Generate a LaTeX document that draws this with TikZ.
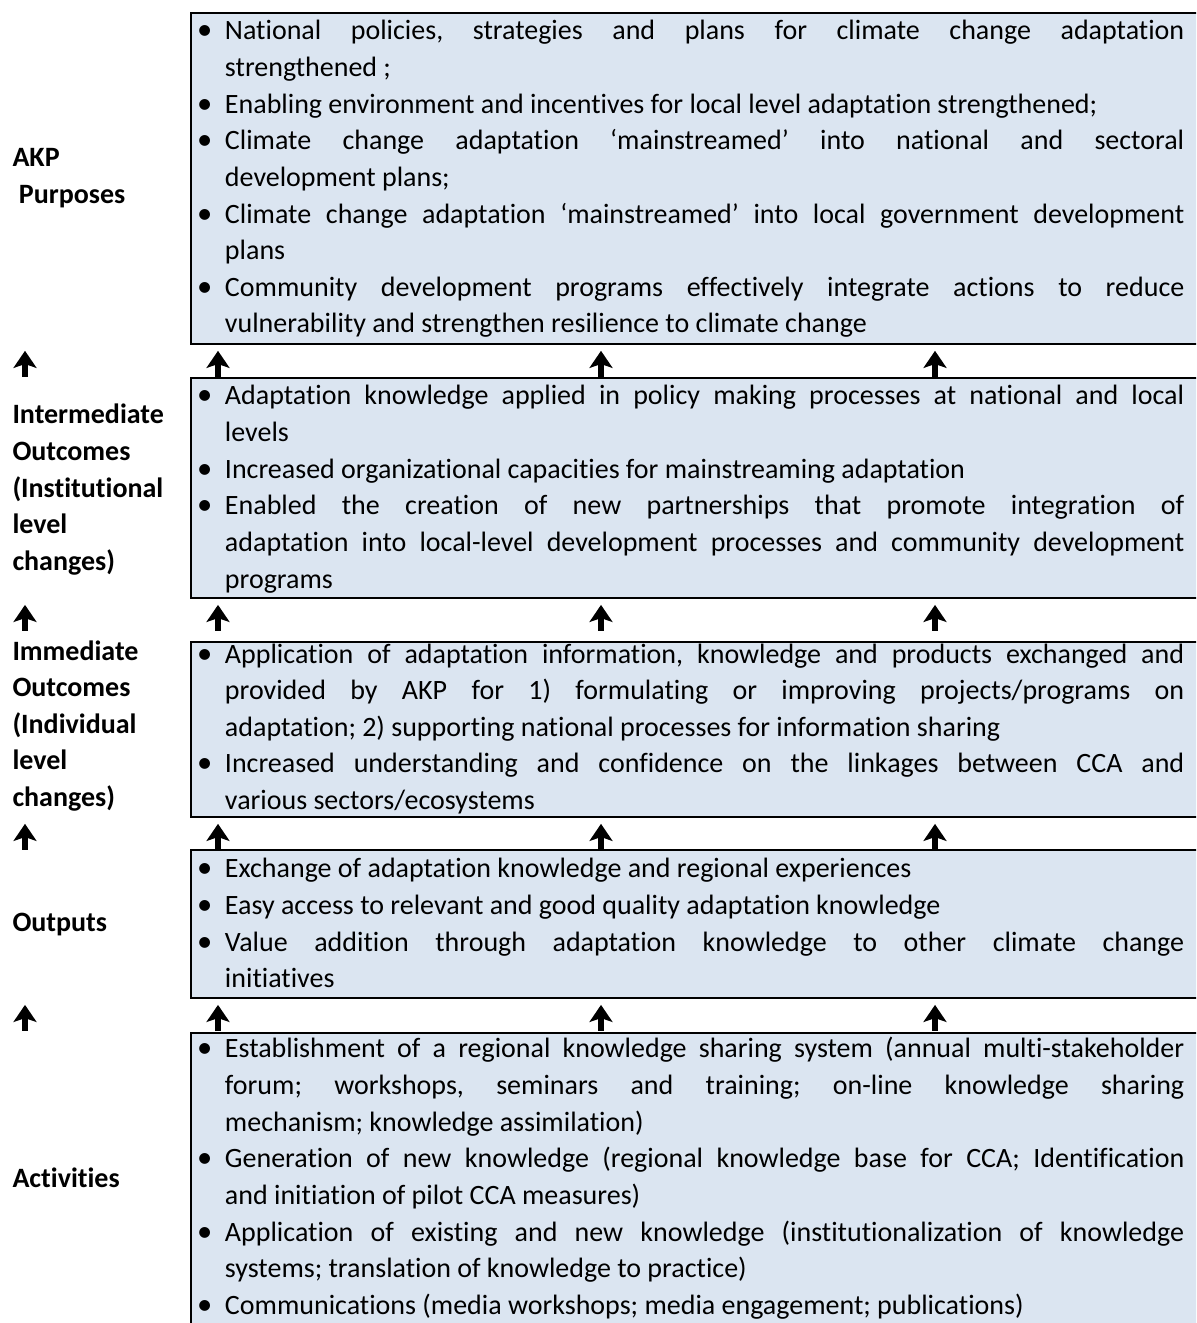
\documentclass[tikz,border=0pt]{standalone}
\usepackage{fontspec}
\setmainfont{Carlito}[Ligatures={TeX,NoCommon}]
\usetikzlibrary{arrows.meta}

\definecolor{boxfill}{HTML}{DBE5F1}
\newcommand{\pxu}{0.393pt}
\newcommand{\bitem}[1]{\par\noindent\hangindent=11pt\hangafter=1\makebox[11pt][l]{\fontsize{12}{14.4}\selectfont\textbullet}#1\strut\par}
\newcommand{\boxtext}[1]{\parbox[t]{388pt}{\fontsize{11}{14.4}\selectfont\frenchspacing\tolerance=9999\hyphenpenalty=10000\exhyphenpenalty=10000 #1}\hspace*{14pt}\null}
\newcommand{\lbltext}[1]{\parbox[t]{75pt}{\raggedright #1}}

\begin{document}
\begin{tikzpicture}[x=\pxu, y=-\pxu,
  box/.style={draw, line width=0.7pt, fill=boxfill, anchor=north west, inner xsep=2.4pt, inner ysep=0pt},
  lbl/.style={anchor=base west, inner sep=0pt, font=\fontsize{11}{14.4}\selectfont\bfseries},
  uparrow/.style={line width=2.3pt, -{Stealth[length=6.7pt, width=9pt, inset=1.5pt]}}]

  \useasboundingbox (0,0) rectangle (1196,1323);
  \clip (0,0) rectangle (1196,1323);

  % boxes
  \node[box, text height=10.6pt, text depth=119.5pt] (purposesbox) at (190,12) {\boxtext{%
    \bitem{National policies, strategies and plans for climate change adaptation\linebreak strengthened ;}
    \bitem{Enabling environment and incentives for local level adaptation strengthened;}
    \bitem{Climate change adaptation ‘mainstreamed’ into national and sectoral\linebreak development plans;}
    \bitem{Climate change adaptation ‘mainstreamed’ into local government development\linebreak plans}
    \bitem{Community development programs effectively integrate actions to reduce\linebreak vulnerability and strengthen resilience to climate change}}};
  \node[box, text height=10.6pt, text depth=75.9pt] (intermbox) at (190,377) {\boxtext{%
    \bitem{Adaptation knowledge applied in policy making processes at national and local\linebreak levels}
    \bitem{Increased organizational capacities for mainstreaming adaptation}
    \bitem{Enabled the creation of new partnerships that promote integration of\linebreak adaptation into local-level development processes and community development\linebreak programs}}};
  \node[box, text height=8.3pt, text depth=60.5pt] (immedbox) at (190,641) {\boxtext{%
    \bitem{Application of adaptation information, knowledge and products exchanged and\linebreak provided by AKP for 1) formulating or improving projects/programs on\linebreak adaptation; 2) supporting national processes for information sharing}
    \bitem{Increased understanding and confidence on the linkages between CCA and\linebreak various sectors/ecosystems}}};
  \node[box, text height=11pt, text depth=47.2pt] (outputsbox) at (190,849) {\boxtext{%
    \bitem{Exchange of adaptation knowledge and regional experiences}
    \bitem{Easy access to relevant and good quality adaptation knowledge}
    \bitem{Value addition through adaptation knowledge to other climate change\linebreak initiatives}}};
  \node[box, text height=9.8pt, text depth=105.3pt] (activitiesbox) at (190,1032) {\boxtext{%
    \bitem{Establishment of a regional knowledge sharing system (annual multi-stakeholder\linebreak forum; workshops, seminars and training; on-line knowledge sharing\linebreak mechanism; knowledge assimilation)}
    \bitem{Generation of new knowledge (regional knowledge base for CCA; Identification\linebreak and initiation of pilot CCA measures)}
    \bitem{Application of existing and new knowledge (institutionalization of knowledge\linebreak systems; translation of knowledge to practice)}
    \bitem{Communications (media workshops; media engagement; publications)}}};

  % labels
  \node[lbl] (purposes) at (12,167) {\lbltext{AKP\\\hspace*{0.23em}Purposes}};
  \node[lbl] (interm) at (12,424) {\lbltext{Intermediate\\Outcomes\\(Institutional\\level\\changes)}};
  \node[lbl] (immed) at (12,660) {\lbltext{Immediate\\Outcomes\\(Individual\\level\\changes)}};
  \node[lbl] (outputs) at (12,931) {\lbltext{Outputs}};
  \node[lbl] (activities) at (12,1187) {\lbltext{Activities}};

  % arrows
  \foreach \bx in {purposesbox,intermbox,immedbox,outputsbox}
    \foreach \ax in {25,218,601,935}
      \draw[uparrow] (\ax,0 |- \bx.south) ++(0,32) -- ++(0,-26);

\end{tikzpicture}
\end{document}
